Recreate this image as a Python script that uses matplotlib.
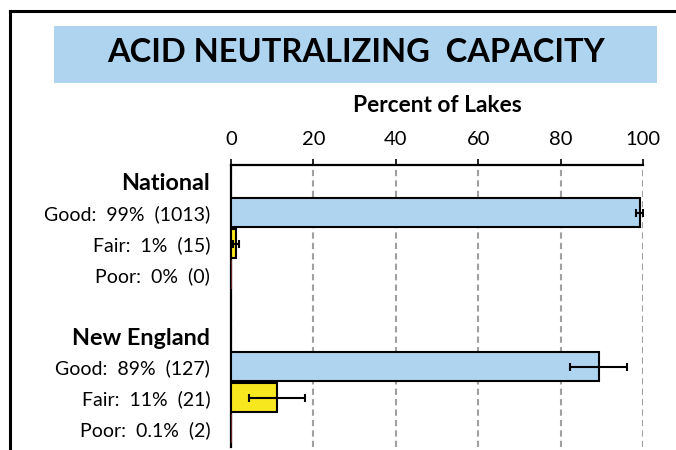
import matplotlib
matplotlib.use("Agg")
from matplotlib import pyplot as plt
from matplotlib.patches import Rectangle
from matplotlib.lines import Line2D

plt.rcParams['font.family'] = ['Lato', 'DejaVu Sans']

# data
regions = ["National", "New England"]
conditions = ["Good", "Fair", "Poor"]
national_pct = [99.2, 1.2, 0.0]
national_err = [0.8, 0.7, 0.0]
national_lbl = ["99%", "1%", "0%"]
national_n = [1013, 15, 0]
ne_pct = [89.2, 11.1, 0.1]
ne_err = [6.8, 6.8, 0.0]
ne_lbl = ["89%", "11%", "0.1%"]
ne_n = [127, 21, 2]
ticks = [0, 20, 40, 60, 80, 100]

colors = {"Good": "#AED4F0", "Fair": "#F6E71E", "Poor": "#8B2E2E"}

fig = plt.figure(figsize=(6.76, 4.5), dpi=100)

# frame around the figure (top and left only visible)
fig.add_artist(Line2D([10 / 676, 10 / 676], [0, 1 - 10.5 / 450], transform=fig.transFigure, color="black", lw=2.2))
fig.add_artist(Line2D([10 / 676, 1], [1 - 10.5 / 450, 1 - 10.5 / 450], transform=fig.transFigure, color="black", lw=2.2))

# title box
fig.add_artist(Rectangle((54 / 676, 1 - 83 / 450), (657 - 54) / 676, (83 - 26) / 450,
                         transform=fig.transFigure, facecolor="#AED4F0", edgecolor="none"))
fig.text(356 / 676, 1 - 53 / 450, "ACID NEUTRALIZING  CAPACITY", ha="center", va="center",
         fontsize=23.5, fontweight="bold")

ax = fig.add_axes([231 / 676, 3 / 450, (643 - 231) / 676, (447 - 165) / 450])

ypos = []
ylabels = []
heads = []
row = 0
for reg, pct, err, lbl, n in [("National", national_pct, national_err, national_lbl, national_n),
                              ("New England", ne_pct, ne_err, ne_lbl, ne_n)]:
    ypos.append(row)
    ylabels.append(reg)
    heads.append(row)
    for i, c in enumerate(conditions):
        y = row + 1 + i
        edge = "#6A2020" if c == "Poor" else "black"
        ax.barh(y, pct[i], height=0.94, color=colors[c], edgecolor=edge, linewidth=1.5, zorder=6)
        if err[i] > 0:
            ax.errorbar(pct[i], y, xerr=err[i], fmt="none", ecolor="black", elinewidth=1.5,
                        capsize=3.2, capthick=1.5, zorder=7)
        ypos.append(y)
        ylabels.append("%s:  %s  (%d)" % (c, lbl[i], n[i]))
    row += 5

ax.set_xlim(0, 100)
ax.set_ylim(8.6, -0.55)
ax.set_xticks(ticks)
ax.xaxis.tick_top()
ax.xaxis.set_label_position("top")
ax.set_xlabel("Percent of Lakes", fontsize=16.4, fontweight="bold", labelpad=14)
ax.tick_params(axis="x", direction="out", length=4, width=1.2, labelsize=14.5, pad=8)
ax.set_yticks(ypos)
ax.set_yticklabels(ylabels, fontsize=14)
for t, yv in zip(ax.get_yticklabels(), ypos):
    if yv in heads:
        t.set_fontweight("bold")
        t.set_fontsize(16.8)
ax.tick_params(axis="y", length=0, pad=15)

ax.grid(axis="x", color="#A0A0A0", linestyle=(0, (3, 2)), linewidth=1.5, zorder=0)
for s in ["bottom", "right"]:
    ax.spines[s].set_visible(False)
for s in ["top", "left"]:
    ax.spines[s].set_linewidth(1.6)
    ax.spines[s].set_zorder(5)

fig.savefig("out.png", dpi=100)
